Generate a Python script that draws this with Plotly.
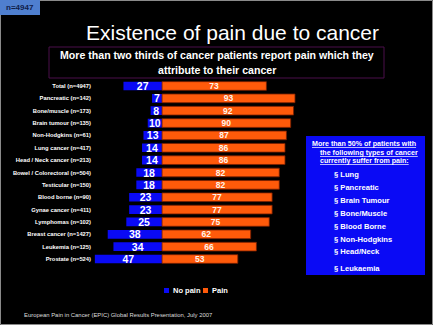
import plotly.graph_objects as go

# Survey data: share of patients without / with pain attributed to cancer
categories = [
    "Total (n=4947)", "Pancreatic (n=142)", "Bone/muscle (n=173)",
    "Brain tumour (n=135)", "Non-Hodgkins (n=61)", "Lung cancer (n=417)",
    "Head / Neck cancer (n=213)", "Bowel / Colorectoral (n=504)",
    "Testicular (n=150)", "Blood borne (n=90)", "Gynae cancer (n=411)",
    "Lymphomas (n=102)", "Breast cancer (n=1427)", "Leukemia (n=125)",
    "Prostate (n=524)",
]
no_pain = [27, 7, 8, 10, 13, 14, 14, 18, 18, 23, 23, 25, 38, 34, 47]
pain = [73, 93, 92, 90, 87, 86, 86, 82, 82, 77, 77, 75, 62, 66, 53]

box_heading = [
    "More than 50% of patients with",
    "the following types of cancer",
    "currently suffer from pain:",
]
box_items = ["Lung", "Pancreatic", "Brain Tumour", "Bone/Muscle",
             "Blood Borne", "Non-Hodgkins", "Head/Neck", "Leukaemia"]

W, H = 433, 325
FONT = "Liberation Sans, Arial, sans-serif"
BLUE = "#0a0af5"
ORANGE = "#ff5a0a"


def px(x):
    return x / W


def py(y):
    return 1 - y / H


fig = go.Figure()
fig.add_trace(go.Bar(
    y=categories, x=[-v for v in no_pain], orientation="h", name="No pain",
    text=[str(v) for v in no_pain], textposition="inside",
    insidetextanchor="middle", textangle=0, constraintext="none",
    textfont=dict(family=FONT, size=10.5, color="white", weight="bold"),
    marker=dict(color=BLUE, line=dict(width=0)),
    showlegend=False, hoverinfo="skip",
))
fig.add_trace(go.Bar(
    y=categories, x=pain, orientation="h", name="Pain",
    text=[str(v) for v in pain], textposition="inside",
    insidetextanchor="middle", textangle=0, constraintext="none",
    textfont=dict(family=FONT, size=8.5, color="#fff4ea", weight="bold"),
    marker=dict(color=ORANGE, line=dict(width=0.8, color="#7a2000")),
    showlegend=False, hoverinfo="skip",
))

shapes = [
    # slide frame
    dict(type="rect", xref="paper", yref="paper", x0=px(0.5), x1=px(W - 0.5),
         y0=py(0.5), y1=py(H - 0.5), line=dict(color="#8a8a8a", width=1)),
    # sample size tag
    dict(type="rect", xref="paper", yref="paper", x0=px(0), x1=px(40),
         y0=py(0), y1=py(15), fillcolor="#4f7fcf", line=dict(width=0)),
    # subtitle frame
    dict(type="rect", xref="paper", yref="paper", x0=px(49), x1=px(384),
         y0=py(47), y1=py(78), line=dict(color="#4a0f4a", width=1)),
    # side box
    dict(type="rect", xref="paper", yref="paper", x0=px(306), x1=px(425),
         y0=py(136), y1=py(275), fillcolor="#0a0af5", line=dict(width=0),
         layer="below"),
    # legend swatches
    dict(type="rect", xref="paper", yref="paper", x0=px(164), x1=px(169),
         y0=py(288), y1=py(293), fillcolor=BLUE, line=dict(width=0)),
    dict(type="rect", xref="paper", yref="paper", x0=px(203), x1=px(208),
         y0=py(288), y1=py(293), fillcolor=ORANGE, line=dict(width=0)),
]

ann = []


def text(x, y, s, size, color="white", bold=True, xanchor="center"):
    ann.append(dict(
        x=px(x), y=py(y), xref="paper", yref="paper", text=s, showarrow=False,
        xanchor=xanchor, yanchor="middle",
        font=dict(family=FONT, size=size, color=color,
                  weight="bold" if bold else "normal"),
    ))


text(20, 8, "n=4947", 8, color="#10204a")
text(233, 32, "Existence of pain due to cancer", 21, bold=False)
text(217, 55, "More than two thirds of cancer patients report pain which they", 10.6)
text(217, 70, "attribute to their cancer", 10.6)

heading_x = [310, 318, 318]
heading_y = [144, 153, 161]
for s, x, y in zip(box_heading, heading_x, heading_y):
    text(x, y, "<u>" + s + "</u>", 7.1, xanchor="left")

item_y = [174, 187, 200, 213, 226, 239, 251, 268]
for s, y in zip(box_items, item_y):
    text(332, y, "§ " + s, 7.6, xanchor="left")

text(171, 290.5, "No pain", 7.5, xanchor="left")
text(210, 290.5, "Pain", 7.5, xanchor="left")
text(22, 315, "European Pain in Cancer (EPIC) Global Results Presentation, July 2007",
     5.9, color="#dddddd", bold=False, xanchor="left")

fig.update_layout(
    width=W, height=H, margin=dict(l=0, r=0, t=0, b=0),
    paper_bgcolor="black", plot_bgcolor="black",
    barmode="relative", bargap=0.3,
    shapes=shapes, annotations=ann,
    xaxis=dict(domain=[px(92), px(305)], range=[-49, 100], visible=False,
               fixedrange=True),
    yaxis=dict(domain=[py(265.2), py(79.8)], autorange="reversed",
               showgrid=False, zeroline=False, showline=False, ticks="",
               tickfont=dict(family=FONT, size=5.8, color="white", weight="bold"),
               fixedrange=True),
)

fig.write_html("out.html", config={"displayModeBar": False})
